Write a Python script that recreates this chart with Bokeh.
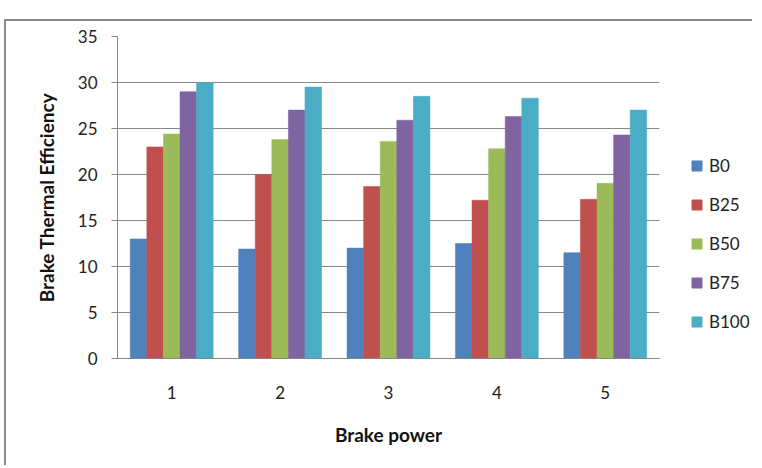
from bokeh.plotting import figure
from bokeh.models import FactorRange, Legend, LegendItem, FixedTicker, ColumnDataSource, Range1d
from bokeh.layouts import row
from bokeh.transform import dodge
from bokeh.embed import file_html
from bokeh.resources import INLINE

categories = ["1", "2", "3", "4", "5"]
series_names = ["B0", "B25", "B50", "B75", "B100"]
b0 = [13.0, 11.9, 12.0, 12.5, 11.5]
b25 = [23.0, 20.0, 18.7, 17.2, 17.3]
b50 = [24.4, 23.8, 23.6, 22.8, 19.05]
b75 = [29.0, 27.0, 25.9, 26.3, 24.3]
b100 = [30.0, 29.5, 28.5, 28.3, 27.0]
colors = ["#4F81BD", "#C0504D", "#9BBB59", "#8064A2", "#4BACC6"]
y_ticks = [0, 5, 10, 15, 20, 25, 30, 35]

FONT = "Lato"
GREY = "#868686"
BORDER = "2px solid #8a8a8a"

src = ColumnDataSource(dict(x=categories, B0=b0, B25=b25, B50=b50, B75=b75, B100=b100))

p = figure(width=663, height=446, x_range=FactorRange(factors=categories, range_padding=0),
           y_range=(0, 35), output_backend="svg", toolbar_location=None,
           min_border_left=111, min_border_right=10, min_border_top=15, min_border_bottom=109)
p.styles = {"border-left": BORDER, "border-top": BORDER}

bw = 0.153
offsets = [-2 * bw, -bw, 0, bw, 2 * bw]
for name, col, off in zip(series_names, colors, offsets):
    p.vbar(x=dodge("x", off, range=p.x_range), top=name, width=bw, source=src,
           fill_color=col, line_color=col, line_width=0.5)

p.outline_line_color = None
p.xgrid.grid_line_color = None
p.ygrid.grid_line_color = GREY
p.ygrid.grid_line_width = 1
p.yaxis.ticker = FixedTicker(ticks=y_ticks)
p.yaxis.minor_tick_line_color = None
p.yaxis.major_tick_out = 6
p.yaxis.major_tick_in = 0
p.yaxis.major_tick_line_color = GREY
p.yaxis.axis_line_color = GREY
p.yaxis.major_label_standoff = 14
p.yaxis.axis_label = "Brake Thermal Efficiency"
p.yaxis.axis_label_standoff = 17

p.xaxis.major_tick_line_color = None
p.xaxis.major_tick_out = 0
p.xaxis.axis_line_color = GREY
p.xaxis.major_label_standoff = 27
p.xaxis.axis_label = "Brake power"
p.xaxis.axis_label_standoff = 21

for ax in (p.xaxis, p.yaxis):
    ax.major_label_text_font = FONT
    ax.major_label_text_font_size = "17px"
    ax.major_label_text_color = "#222222"
    ax.axis_label_text_font = FONT
    ax.axis_label_text_font_size = "19px"
    ax.axis_label_text_font_style = "bold"
    ax.axis_label_text_color = "#111111"

# legend panel to the right of the plot area (its markers lie outside its visible range)
q = figure(width=85, height=446, x_range=FactorRange(factors=categories), y_range=Range1d(-20, -10),
           output_backend="svg", toolbar_location=None, x_axis_location=None, y_axis_location=None,
           min_border_left=0, min_border_right=0, min_border_top=0, min_border_bottom=0)
q.styles = {"border-top": BORDER}
q.grid.grid_line_color = None
q.outline_line_color = None
items = []
for name, col in zip(series_names, colors):
    r = q.scatter(x="x", y=name, source=src, marker="square", size=4, fill_color=col, line_color=col)
    items.append(LegendItem(label=name, renderers=[r]))
legend = Legend(items=items, location=(17, 24), orientation="vertical", margin=0,
                glyph_width=25, glyph_height=25, label_height=25, spacing=14,
                padding=0, border_line_color=None, background_fill_alpha=0,
                label_text_font=FONT, label_text_font_size="17px", label_text_color="#222222",
                label_standoff=0)
q.add_layout(legend, "center")

layout = row(p, q, margin=(19, 0, 0, 4))
open("out.html", "w").write(file_html(layout, INLINE))
